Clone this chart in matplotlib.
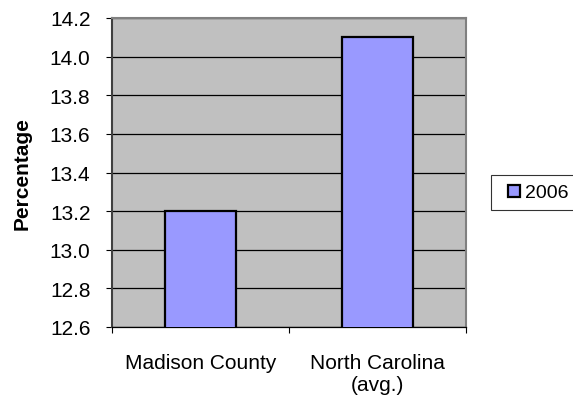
import numpy as np
import matplotlib
matplotlib.use("Agg")
import matplotlib.pyplot as plt
from matplotlib.lines import Line2D

plt.rcParams['font.family'] = ['Liberation Sans', 'DejaVu Sans']

categories = ["Madison County", "North Carolina\n(avg.)"]
values_2006 = [13.2, 14.1]
series_label = "2006"
y_ticks = [12.6, 12.8, 13.0, 13.2, 13.4, 13.6, 13.8, 14.0, 14.2]

fig = plt.figure(figsize=(5.73, 4.02), dpi=100)
ax = fig.add_axes([112 / 573, 74 / 402, 354 / 573, 309 / 402])
ax.set_facecolor("#C0C0C0")

x = np.arange(len(categories))
ax.bar(x, values_2006, width=0.4, color="#9999FF", edgecolor="black",
       linewidth=1.6, zorder=3)

ax.set_xlim(-0.5, len(categories) - 0.5)
ax.set_ylim(12.6, 14.2)
ax.set_yticks(y_ticks)
ax.set_yticklabels(["%.1f" % v for v in y_ticks], fontsize=15)
ax.yaxis.grid(True, color="black", linewidth=0.9, zorder=1)

ax.set_xticks(x)
ax.set_xticklabels(categories, fontsize=15, linespacing=1.15)
ax.set_xticks(np.arange(-0.5, len(categories), 1.0), minor=True)
ax.tick_params(axis="x", which="major", length=0, pad=19)
ax.tick_params(axis="x", which="minor", length=4.5, width=0.8, direction="out")
ax.tick_params(axis="y", length=4.5, width=0.8, pad=11, direction="out")

for side in ["top", "right"]:
    ax.spines[side].set_color("#808080")
    ax.spines[side].set_linewidth(1.5)
ax.spines["left"].set_color("#404040")
ax.spines["left"].set_linewidth(1.5)
ax.spines["bottom"].set_color("black")
ax.spines["bottom"].set_linewidth(0.9)

ax.set_ylabel("Percentage", fontsize=15, fontweight="bold", labelpad=13)

handles = [Line2D([], [], linestyle="none", marker="s", markersize=9,
                  markerfacecolor="#9999FF", markeredgecolor="black",
                  markeredgewidth=1.6, label=series_label)]
leg = fig.legend(handles=handles, loc="center left",
                 bbox_to_anchor=(491 / 573, (402 - 193.5) / 402),
                 fontsize=14, frameon=True, fancybox=False, borderpad=0.45,
                 handlelength=1.5, handletextpad=-0.2, borderaxespad=0)
leg.get_frame().set_edgecolor("black")
leg.get_frame().set_linewidth(0.8)

fig.savefig("out.png", dpi=100)
